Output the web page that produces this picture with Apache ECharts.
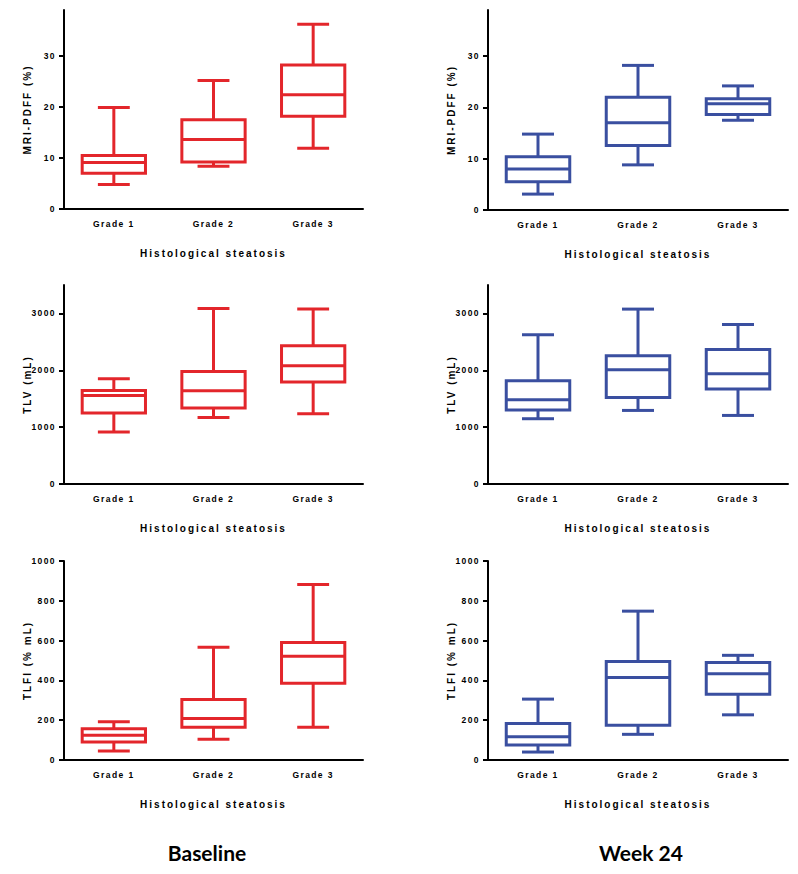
<!DOCTYPE html>
<html>
<head>
<meta charset="utf-8">
<script src="https://cdn.jsdelivr.net/npm/echarts@6/dist/echarts.min.js"></script>
<style>
html, body { margin: 0; padding: 0; background: #fff; }
#chart { width: 798px; height: 874px; }
#chart text { letter-spacing: 1.4px; }
#chart text[style*="10px"] { letter-spacing: 2px; }
#chart text[style*="Lato"] { letter-spacing: 0px; }
</style>
</head>
<body>
<div id="chart"></div>
<script>
// ---- data: [min, Q1, median, Q3, max] per grade ----
const categories = ['Grade 1', 'Grade 2', 'Grade 3'];
const baselinePDFF = [[4.8, 7.0, 9.1, 10.5, 19.9], [8.4, 9.2, 13.6, 17.5, 25.2], [11.9, 18.2, 22.4, 28.2, 36.2]];
const week24PDFF   = [[3.1, 5.5, 8.0, 10.4, 14.8], [8.8, 12.6, 17.0, 22.0, 28.2], [17.5, 18.6, 20.7, 21.7, 24.2]];
const baselineTLV  = [[914, 1248, 1557, 1645, 1851], [1171, 1336, 1640, 1979, 3086], [1236, 1793, 2079, 2431, 3076]];
const week24TLV    = [[1148, 1300, 1481, 1815, 2625], [1294, 1522, 2009, 2255, 3076], [1206, 1670, 1938, 2366, 2805]];
const baselineTLFI = [[45, 90, 125, 157, 192], [104, 164, 209, 304, 566], [165, 386, 521, 590, 882]];
const week24TLFI   = [[40, 75, 117, 184, 306], [129, 175, 414, 495, 748], [227, 331, 433, 490, 526]];
const pdffTicks = [0, 10, 20, 30];
const tlvTicks = [0, 1000, 2000, 3000];
const tlfiTicks = [0, 200, 400, 600, 800, 1000];
const xTitle = 'Histological steatosis';
const panelTitles = ['Baseline', 'Week 24'];

const RED = '#e3262b';
const BLUE = '#3a4fa0';
const FONT = "'Liberation Sans', Arial, sans-serif";

const panels = [
  { data: baselinePDFF, color: RED,  name: 'MRI-PDFF (%)', ticks: pdffTicks, max: 39,   interval: 10,  left: 64,  top: 10,  width: 299, height: 199 },
  { data: week24PDFF,   color: BLUE, name: 'MRI-PDFF (%)', ticks: pdffTicks, max: 39,   interval: 10,  left: 488, top: 10,  width: 300, height: 200 },
  { data: baselineTLV,  color: RED,  name: 'TLV (mL)',     ticks: tlvTicks,  max: 3500, interval: 1000, left: 64,  top: 285, width: 299, height: 199 },
  { data: week24TLV,    color: BLUE, name: 'TLV (mL)',     ticks: tlvTicks,  max: 3500, interval: 1000, left: 488, top: 285, width: 300, height: 199 },
  { data: baselineTLFI, color: RED,  name: 'TLFI (% mL)',  ticks: tlfiTicks, max: 1000, interval: 200, left: 64,  top: 561, width: 299, height: 199 },
  { data: week24TLFI,   color: BLUE, name: 'TLFI (% mL)',  ticks: tlfiTicks, max: 1000, interval: 200, left: 488, top: 561, width: 300, height: 199 }
];

const axisLineStyle = { color: '#000', width: 2 };

function makeRender(color) {
  return function (params, api) {
    const i = api.value(0);
    const mn = api.value(1), q1 = api.value(2), md = api.value(3), q3 = api.value(4), mx = api.value(5);
    const cx = api.coord([i, md])[0];
    const band = api.size([1, 0])[0];
    const bw = band * 0.635, cw = band * 0.32;
    const y = v => api.coord([i, v])[1];
    const st = { stroke: color, lineWidth: 3, fill: null, lineCap: 'butt' };
    const line = (x1, y1, x2, y2) => ({ type: 'line', shape: { x1, y1, x2, y2 }, style: st });
    return {
      type: 'group',
      children: [
        line(cx, y(q3), cx, y(mx)),
        line(cx, y(q1), cx, y(mn)),
        line(cx - cw / 2, y(mx), cx + cw / 2, y(mx)),
        line(cx - cw / 2, y(mn), cx + cw / 2, y(mn)),
        { type: 'rect', shape: { x: cx - bw / 2, y: y(q3), width: bw, height: y(q1) - y(q3) }, style: st },
        line(cx - bw / 2, y(md), cx + bw / 2, y(md))
      ]
    };
  };
}

const option = {
  animation: false,
  backgroundColor: '#fff',
  grid: panels.map(p => ({ left: p.left, top: p.top, width: p.width, height: p.height, outerBoundsMode: 'none', containLabel: false })),
  xAxis: panels.map((p, k) => ({
    type: 'category', gridIndex: k, data: categories,
    axisLine: { lineStyle: axisLineStyle },
    axisTick: { alignWithLabel: true, length: 4, lineStyle: axisLineStyle },
    axisLabel: { color: '#000', fontWeight: 'bold', fontSize: 8.5, fontFamily: FONT, margin: 10, interval: 0 },
    name: xTitle, nameLocation: 'middle', nameGap: 39,
    nameTextStyle: { color: '#000', fontWeight: 'bold', fontSize: 10, fontFamily: FONT }
  })),
  yAxis: panels.map((p, k) => ({
    type: 'value', gridIndex: k, min: 0, max: p.max, interval: p.interval,
    axisLine: { show: true, lineStyle: axisLineStyle },
    axisTick: { show: true, length: 5, lineStyle: axisLineStyle, customValues: p.ticks },
    axisLabel: { color: '#000', fontWeight: 'bold', fontSize: 8.5, fontFamily: FONT, margin: 8, customValues: p.ticks,
                 formatter: v => String(v) },
    splitLine: { show: false },
    name: p.name, nameLocation: 'middle', nameGap: 32,
    nameTextStyle: { color: '#000', fontWeight: 'bold', fontSize: 10, fontFamily: FONT }
  })),
  series: panels.map((p, k) => ({
    type: 'custom', xAxisIndex: k, yAxisIndex: k,
    renderItem: makeRender(p.color),
    encode: { x: 0, y: [1, 2, 3, 4, 5] },
    data: p.data.map((d, i) => [i].concat(d))
  })),
  graphic: [
    { type: 'text', x: 207, y: 852, style: { text: panelTitles[0], font: "bold 21px Lato, 'Open Sans', sans-serif", fill: '#000', textAlign: 'center', textVerticalAlign: 'middle' } },
    { type: 'text', x: 641, y: 852, style: { text: panelTitles[1], font: "bold 21px Lato, 'Open Sans', sans-serif", fill: '#000', textAlign: 'center', textVerticalAlign: 'middle' } }
  ]
};

const chart = echarts.init(document.getElementById('chart'), null, { renderer: 'svg', width: 798, height: 874 });
chart.setOption(option);
</script>
</body>
</html>
